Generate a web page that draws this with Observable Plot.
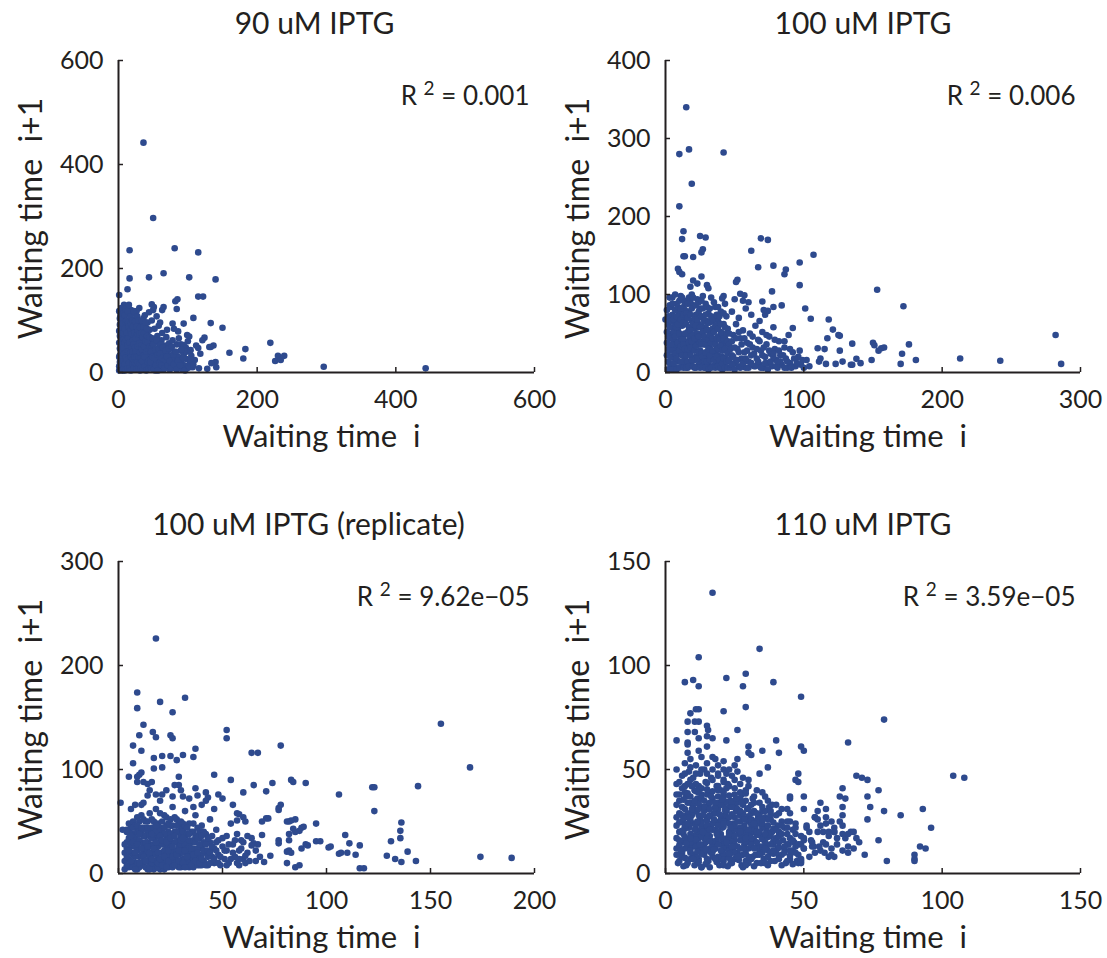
<!DOCTYPE html>
<html>
<head>
<meta charset="utf-8">
<script src="https://cdn.jsdelivr.net/npm/d3@7"></script>
<script src="https://cdn.jsdelivr.net/npm/@observablehq/plot@0.6"></script>
<style>
  html, body { margin: 0; padding: 0; background: #ffffff; }
  #root { position: relative; width: 1107px; height: 958px; background: #ffffff; overflow: hidden; }
  #root svg { position: absolute; }
</style>
</head>
<body>
<div id="root"></div>
<script>
// ---------- chart text ----------
const titles = ["90 uM IPTG", "100 uM IPTG", "100 uM IPTG (replicate)", "110 uM IPTG"];
const r2Values = ["0.001", "0.006", "9.62e\u221205", "3.59e\u221205"];
const xLabel = "Waiting time\u00a0\u00a0i";
const yLabel = "Waiting time\u00a0\u00a0i+1";

// ---------- axes ----------
const xDomains = [[0, 600], [0, 300], [0, 200], [0, 150]];
const yDomains = [[0, 600], [0, 400], [0, 300], [0, 150]];
const xTicks = [[0, 200, 400, 600], [0, 100, 200, 300], [0, 50, 100, 150, 200], [0, 50, 100, 150]];
const yTicks = [[0, 200, 400, 600], [0, 100, 200, 300, 400], [0, 100, 200, 300], [0, 50, 100, 150]];

// ---------- data: [waiting time i, waiting time i+1] ----------
const pts90 = [
  [1,12],[2,33],[1,57],[3,81],[2,104],[4,6],[4,27],[5,46],[3,69],[5,93],[6,118],[6,15],[7,38],[7,62],[8,85],[8,108],[9,4],[9,24],[10,50],[10,73],[11,97],[11,126],[12,14],[13,36],[13,60],[14,82],[14,112],[15,5],[16,27],[16,47],[17,70],[17,91],[18,120],[19,10],[19,33],[20,56],[20,79],[21,102],[22,19],[22,42],[23,65],[23,88],[24,113],[25,6],[25,28],[26,51],[26,74],[27,96],[28,14],[28,38],[29,60],[29,84],[30,124],[31,4],[31,23],[32,46],[32,70],[33,93],[34,12],[34,32],[35,56],[35,78],[36,104],[37,7],[37,20],[38,42],[38,64],[39,87],[40,15],[40,30],[41,52],[42,72],[42,96],[43,9],[44,36],[44,60],[45,82],
  [3,44],[6,72],[9,95],[12,48],[15,71],[18,58],[21,37],[24,86],[27,62],[30,44],[33,27],[36,67],[39,50],[41,24],[16,100],[20,114],[8,130],[26,118],[11,84],[5,22],[14,25],[23,8],[28,92],[34,84],[38,110],[17,16],[31,96],[19,66],[10,39],[32,62],
  [1,4],[1,30],[1,80],[1,118],[2,20],[2,46],[2,70],[2,92],[3,10],[3,56],[3,110],[4,16],[4,38],[4,62],[4,86],[4,124],[5,30],[5,76],[5,102],[6,4],[6,54],[6,94],[7,22],[7,48],[7,76],[7,114],[8,8],[8,36],[8,64],[9,16],[9,58],[9,84],[9,110],[10,28],[10,98],[10,122],[11,6],[11,40],[11,62],[12,24],[12,76],[12,100],[13,8],[13,52],[13,118],[14,40],[14,66],[14,96],[15,18],[15,88],[15,130],[16,8],[16,58],[17,38],[17,80],[17,108],[18,4],[18,30],[18,94],[19,48],[19,74],[20,16],[20,40],[20,100],[21,26],[21,62],[21,88],[22,8],[22,54],[22,118],[23,30],[23,76],[24,18],[24,48],[24,98],[25,40],[25,66],[26,6],[26,30],[26,88],[27,20],[27,74],[27,108],[28,50],[28,80],[29,8],[29,30],[29,100],[30,16],[30,56],[30,74],[31,38],[31,86],[32,8],[32,28],[33,52],[33,76],[34,22],[34,44],[34,100],[35,6],[35,68],[36,32],[36,88],[37,50],[37,76],[38,12],[38,30],[39,60],[39,96],[40,4],[40,40],[41,70],[41,84],[42,20],[42,58],[43,46],[44,8],[44,24],[45,50],[45,68],
  [46,8],[47,26],[48,48],[49,66],[50,14],[51,38],[52,58],[53,4],[54,22],[55,44],[56,70],[57,12],[58,32],[59,52],[60,8],[61,26],[62,62],[63,40],[64,16],[65,6],[66,34],[67,52],[68,20],[69,68],[70,10],[71,40],[72,28],[73,56],[74,6],[75,18],[76,46],[77,32],[78,62],[79,12],[80,24],[81,40],[82,8],[84,54],[85,18],[86,30],[87,66],[88,10],[90,42],[91,22],[92,6],[94,34],[95,14],[97,48],[98,26],[99,8],[100,60],[103,18],[105,32],[107,10],[110,24],
  [46,20],[47,40],[48,8],[49,30],[50,54],[51,6],[52,28],[53,44],[54,14],[55,62],[56,34],[57,4],[58,46],[59,18],[60,36],[61,54],[62,14],[63,28],[64,48],[66,8],[67,24],[68,42],[70,30],[71,14],[73,46],[74,22],[76,8],[77,50],[79,34],[80,16],[83,40],[84,6],[86,22],[89,14],[90,54],[93,28],[96,4],[98,40],[101,12],[104,24],
  [52,84],[58,90],[63,76],[70,82],[48,100],[55,108],[60,96],[44,116],[50,120],
  [36,442],[50,297],[16,235],[81,239],[115,231],[16,181],[44,183],[65,191],[102,183],[140,179],[13,160],[1,149],[115,146],[122,146],[82,137],[85,141],[84,122],[63,120],[65,126],[48,131],[51,126],[108,105],[94,94],[133,95],[150,86],[160,38],[183,45],[180,27],[219,57],[226,22],[230,32],[234,24],[239,32],[296,11],[443,8],[137,52],[133,49],[124,67],[121,62],[115,47],[112,52],[140,20],[141,10],[134,18],[128,7],[116,8],[103,10],[102,69],[99,72],[94,53],[91,44],[86,79],[78,94],[80,84],[108,15],[118,36],[104,43],[131,49]
];

const pts100 = [
  [1,38],[2,14],[2,62],[3,86],[3,28],[4,50],[4,8],[5,74],[5,96],[6,20],[6,42],[7,64],[7,6],[8,32],[8,88],[9,54],[9,14],[10,76],[10,40],[11,24],[11,98],[12,60],[12,8],[13,46],[13,84],[14,18],[14,68],[15,34],[15,92],[16,6],[16,52],[17,78],[17,26],[18,12],[18,44],[19,66],[19,100],[20,30],[20,86],[21,6],[21,56],[22,20],[22,74],[23,40],[23,94],[24,10],[24,62],[25,28],[25,82],[26,48],[26,16],[27,70],[27,98],[28,36],[28,6],[29,58],[29,88],[30,22],[30,44],[31,76],[31,12],[32,64],[32,32],[33,96],[33,50],[34,8],[34,18],[35,70],[35,40],[36,84],[36,26],[37,56],[37,12],[38,46],[38,66],[39,6],[39,30],[40,78],[40,52],[41,20],[41,38],[42,62],[42,10],[43,44],[43,88],[44,28],[44,72],[45,14],[45,56],
  [3,44],[5,58],[7,36],[9,70],[11,46],[13,28],[15,12],[17,48],[19,8],[21,36],[23,58],[25,12],[27,40],[29,16],[31,54],[33,24],[35,8],[37,34],[39,62],[41,4],[43,18],[6,30],[10,60],[14,80],[18,90],[22,48],[26,60],[30,66],[34,56],[38,22],[42,36],[16,40],[20,18],[24,36],[28,24],
  [1,22],[1,52],[1,80],[2,4],[2,30],[2,46],[2,72],[3,12],[3,58],[3,96],[4,20],[4,36],[4,66],[4,84],[5,4],[5,28],[5,44],[5,88],[6,12],[6,52],[6,68],[7,24],[7,46],[7,80],[7,100],[8,4],[8,18],[8,58],[8,72],[9,38],[9,62],[9,84],[10,6],[10,28],[10,50],[10,92],[11,14],[11,34],[11,68],[11,82],[12,22],[12,42],[12,96],[13,6],[13,36],[13,64],[13,74],[14,30],[14,50],[14,90],[15,6],[15,22],[15,62],[15,76],[16,14],[16,30],[16,70],[16,88],[17,8],[17,38],[17,58],[17,96],[18,22],[18,32],[18,54],[18,74],[19,16],[19,40],[19,82],[20,8],[20,48],[20,62],[20,96],[21,16],[21,28],[21,44],[21,70],[22,6],[22,34],[22,60],[22,86],[23,18],[23,50],[23,68],[24,26],[24,46],[24,78],[24,90],[25,6],[25,38],[25,58],[26,24],[26,36],[26,72],[26,92],[27,8],[27,20],[27,52],[27,82],[28,14],[28,46],[28,66],[29,6],[29,26],[29,36],[29,74],[30,14],[30,54],[30,84],[31,4],[31,30],[31,42],[31,64],[32,16],[32,22],[32,48],[32,82],[33,6],[33,38],[33,72],[34,28],[34,44],[34,66],[35,16],[35,52],[35,90],[36,6],[36,36],[36,60],[37,20],[37,44],[37,74],[38,8],[38,30],[38,56],[38,84],[39,16],[39,42],[39,72],[40,6],[40,34],[40,62],[41,12],[41,28],[41,50],[42,18],[42,44],[42,76],[43,6],[43,30],[43,58],[44,14],[44,38],[44,50],[45,6],[45,24],[45,40],
  [46,36],[47,6],[48,22],[49,48],[50,12],[51,62],[52,30],[53,8],[54,44],[55,18],[56,54],[57,26],[58,6],[59,38],[60,14],[61,50],[62,22],[63,32],[64,8],[65,60],[66,18],[67,42],[68,10],[69,28],[70,52],[71,6],[72,20],[73,36],[74,12],[75,46],[76,24],[77,8],[78,58],[79,30],[80,16],[81,6],[82,40],[83,22],[84,10],[86,32],[87,18],[88,6],[89,48],[90,12],[92,26],[94,8],[96,20],[98,10],[100,6],[102,16],[104,8],
  [46,16],[46,50],[47,30],[48,10],[48,40],[49,20],[50,4],[50,32],[51,44],[52,16],[53,26],[53,52],[54,6],[55,36],[56,12],[57,44],[58,18],[59,28],[60,6],[61,36],[62,12],[63,46],[64,24],[65,8],[66,30],[67,14],[68,40],[69,6],[70,22],[71,32],[72,12],[73,48],[74,4],[75,28],[76,14],[78,20],[79,42],[80,8],[82,28],[83,14],[85,22],[86,6],[88,14],[90,30],[91,6],[93,18],[95,12],[97,28],[99,16],
  [48,78],[53,70],[58,82],[62,74],[68,66],[72,74],[56,92],[50,94],[60,90],
  [15,340],[17,286],[10,280],[42,282],[19,242],[10,213],[13,181],[12,171],[25,175],[29,173],[69,172],[74,170],[13,149],[14,149],[20,148],[27,158],[26,154],[62,156],[107,151],[97,141],[78,137],[67,135],[87,132],[86,126],[9,133],[10,129],[12,126],[20,118],[26,123],[23,114],[30,112],[31,108],[18,110],[153,106],[172,85],[97,112],[52,119],[51,116],[77,104],[54,101],[57,99],[42,98],[41,95],[101,82],[70,91],[84,86],[78,84],[74,79],[71,80],[105,69],[118,68],[92,57],[121,55],[125,48],[126,47],[117,44],[135,37],[150,38],[151,35],[158,32],[156,31],[154,28],[176,36],[171,24],[126,28],[110,31],[115,30],[282,48],[213,18],[242,15],[286,11],[181,16],[170,11],[149,16],[138,17.5],[141,12],[134,10],[135,10],[128,14],[123,11],[116,11],[111,14],[112,18],[86,40],[78,24],[81,14],[0,68]
];

const pts100rep = [
  [3,12],[4,30],[5,6],[5,48],[6,20],[6,62],[7,38],[8,10],[8,26],[9,54],[9,4],[10,16],[10,42],[11,30],[11,66],[12,8],[12,22],[13,50],[13,36],[14,12],[14,4],[15,28],[15,58],[16,18],[16,44],[17,8],[17,34],[18,24],[18,62],[19,14],[19,48],[20,4],[20,30],[21,40],[21,20],[22,10],[22,56],[23,26],[23,36],[24,6],[24,16],[25,46],[25,30],[26,12],[26,64],[27,22],[27,40],[28,8],[28,52],[29,18],[29,32],[30,6],[30,44],[31,26],[31,14],[32,60],[32,36],[33,8],[33,20],[34,48],[35,30],[35,12],[36,40],[36,6],[37,22],[37,56],[38,16],[39,34],[39,8],[40,26],[40,46],[41,12],[42,20],[42,38],[43,8],[44,30],[44,52],[45,16],[46,24],[46,10],[47,42],[48,18],[48,32],[49,8],[50,26],[51,14],[52,36],[52,22],[53,10],[54,48],[55,28],[56,16],[57,38],[58,8],[58,22],[59,32],[60,14],
  [7,18],[9,32],[11,8],[13,24],[15,42],[17,20],[19,36],[21,6],[23,46],[25,18],[27,12],[29,40],[31,48],[33,30],[35,20],[37,10],[39,24],[41,30],[43,16],[45,36],[4,40],[6,8],[10,24],[14,38],[18,6],[22,30],[26,38],[30,20],[34,14],[38,44],[12,44],[16,52],[20,58],[24,40],[28,30],
  [3,20],[3,4],[4,8],[4,24],[5,14],[5,34],[6,28],[6,44],[7,6],[7,26],[7,50],[8,16],[8,34],[8,46],[9,10],[9,22],[9,40],[10,6],[10,32],[10,50],[11,18],[11,38],[11,56],[12,12],[12,28],[12,36],[13,6],[13,18],[13,42],[14,22],[14,30],[14,50],[15,8],[15,16],[15,36],[16,10],[16,26],[16,34],[17,4],[17,28],[17,44],[18,12],[18,18],[18,40],[19,6],[19,26],[19,30],[20,10],[20,20],[20,44],[21,14],[21,28],[21,50],[22,4],[22,22],[22,38],[23,12],[23,18],[23,54],[24,26],[24,32],[24,48],[25,8],[25,24],[25,38],[26,6],[26,20],[26,46],[27,16],[27,30],[27,54],[28,12],[28,22],[28,40],[29,6],[29,26],[29,48],[30,12],[30,28],[30,36],[31,8],[31,20],[31,40],[32,14],[32,28],[32,46],[33,12],[33,24],[33,38],[34,6],[34,22],[34,32],[35,16],[35,40],[36,10],[36,24],[36,32],[37,16],[37,30],[38,8],[38,24],[39,14],[39,40],[40,8],[40,18],[41,22],[41,40],[42,8],[42,28],[43,22],[43,34],[44,10],[44,20],[45,26],[46,14],[47,22],[47,30],[48,10],[49,16],[50,34],[51,22],[52,8],[53,28],[54,14],[55,20],[56,32],[57,10],[58,14],[59,24],[60,30],[61,10],[62,20],[63,12],[64,34],[66,12],[67,28],
  [3,28],[4,16],[5,22],[5,40],[6,12],[6,36],[7,30],[7,44],[8,4],[8,20],[9,28],[9,46],[10,10],[10,38],[11,24],[11,44],[12,16],[12,52],[13,30],[13,12],[14,44],[14,26],[15,20],[15,4],[16,38],[16,14],[17,24],[17,50],[18,30],[18,46],[19,20],[19,10],[20,36],[20,14],[21,32],[21,8],[22,16],[22,44],[23,6],[23,30],[24,22],[24,12],[25,34],[25,52],[26,26],[26,16],[27,8],[27,36],[28,18],[28,46],[29,12],[29,22],[30,32],[30,50],[31,10],[31,34],[32,6],[32,22],[33,16],[33,44],[34,26],[34,38],[35,8],[35,24],[36,18],[36,48],[37,12],[37,36],[38,20],[38,34],[39,10],[39,28],[40,14],[40,36],
  [18,226],[9,174],[32,169],[20,165],[9,159],[26,155],[12,143],[155,144],[52,138],[52,130],[16.5,136],[18,131],[25,133],[26,130],[10,133],[7,123],[78,123],[11,118],[37,120],[36,112],[64,116],[67,116],[31,114],[28,109],[21,113],[17,111],[25,113],[7,106],[169,102],[21,102],[17,101],[11,97],[10,95],[5,93],[9,93],[46,95],[29,93],[54,90],[83,90],[84,88],[90,87],[74,87],[65,85],[144,84],[122,83],[123,83],[106,76],[71,79],[60,78],[123,60],[109,37],[111,29],[116,27],[136,49],[135.5,41],[135.5,34],[131,31],[139,21],[129,17],[133,14],[136,11],[143,12],[174,16],[189,15],[116,5],[118,5],[95,48],[95,31],[97,31],[101,25],[102,26],[106,19],[107,20],[110,20],[114,18],[89,45],[88,44],[87,41],[84,43],[85,40],[82,38],[82,32],[85,52],[83,51],[82,50],[81,50],[77,63],[78,66],[77,61],[71,53],[72,53],[69,50],[60,54],[58,57],[57,51],[61,50],[77,32],[77,29],[73,17],[70,11],[68,16],[66,22],[61,17],[65,29],[64,27],[69,37],[62,36],[81,21],[82,22],[83,20],[81,10],[85,6],[87,8],[91,27],[90,28],[88,24],
  [29,85],[30,80],[31,74],[34,72],[37,82],[38,75],[42,78],[43,73],[42,70],[40,66],[36,64],[48,76],[50,72],[55,66],[57,58],[46,62],[14,86],[15,80],[18,76],[20,70],[21,76],[12,68],[8,66],[23,80],[26,74],[27,85],[4,42],[1,68],[2,42],[14,75],[12,88],[16,88],[9,88]
];

const pts110 = [
  [5,6],[7.5,4],[9,7],[11.5,5],[13,3],[15.5,6],[17,8],[19.5,4],[21,6],[23.5,5],[25,7],[27.5,4],[29,6],[31.5,8],[33,5],[35.5,7],[37,4],[39.5,6],[41,8],[43.5,5],[45,7],[47.5,6],
  [4,12],[6,10],[8.5,13],[10,9],[12.5,11],[14,14],[16.5,10],[18,12],[20.5,9],[22,13],[24.5,11],[26,10],[28.5,14],[30,12],[32.5,9],[34,11],[36.5,13],[38,10],[40.5,12],[42,9],[44.5,14],[46,11],[48,9],[50,12],
  [4,17],[6.5,19],[8,16],[10.5,18],[12,20],[14.5,15],[16,18],[18.5,16],[20,19],[22.5,17],[24,15],[26.5,20],[28,17],[30.5,19],[32,16],[34.5,18],[36,15],[38.5,20],[40,17],[42.5,16],[44,19],[46.5,15],[49,18],
  [4,23],[6,25],[8.5,22],[10,24],[12.5,26],[14,21],[16.5,23],[18,25],[20.5,22],[22,26],[24.5,24],[26,21],[28.5,23],[30,25],[32.5,22],[34,24],[36.5,21],[38,26],[40.5,23],[43,22],[45,25],
  [5,29],[7,31],[9.5,28],[11,30],[13.5,32],[15,27],[17.5,29],[19,31],[21.5,28],[23,32],[25.5,30],[27,28],[29.5,31],[31,29],[33.5,27],[35,30],[37.5,32],[40,28],[42,31],
  [5,35],[7.5,37],[9,34],[11.5,36],[13,38],[15.5,33],[17,36],[19.5,34],[21,37],[23.5,35],[25,33],[27.5,38],[29,35],[31.5,36],[34,34],[36,37],[38.5,33],
  [6,41],[8,43],[10.5,40],[12,42],[14.5,44],[16,39],[18.5,42],[20,40],[22.5,43],[25,41],[27,39],[30,42],[33,40],
  [6,47],[8.5,49],[10,46],[12.5,48],[14,50],[16.5,46],[19,48],[21,45],[24,47],[28,46],
  [6,8],[8,5],[10,13],[12,7],[14,17],[16,12],[18,21],[20,14],[22,8],[24,19],[26,13],[28,9],[7,22],[9,27],[11,15],[13,25],[15,31],[17,14],[19,24],[21,33],[23,20],[25,27],[27,16],[29,21],[6,15],[8,29],[10,33],[12,17],[14,9],[16,28],[18,32],[20,26],[22,30],[24,10],[26,34],[28,27],[30,15],[32,20],[34,13],[36,27],[38,18],[40,10],[42,25],[44,14],[46,21],[48,5],
  [4.5,5],[6.5,3.5],[10.5,4],[12,5.5],[14.5,4.5],[16,3],[18.5,5.5],[20,7],[22.5,3.5],[24,5],[26.5,6.5],[28,3],[30,5],[32,3.5],[34.5,5],[38,6],[42,4],[46,4.5],
  [5,9],[7,7.5],[9,10],[11,8],[13,9.5],[15,7],[17,10.5],[19,8],[21,9.5],[23,7.5],[25,10],[27,8.5],[29,9.5],[31,7],[33,9],[35,10],[37,8],[39,9.5],[41,7],[43,10],[45,8.5],[47,10],
  [5,13.5],[7,12],[9,11],[11,13],[13,12.5],[15,11],[17,13],[19,14],[21,12],[23,11],[25,13.5],[27,12],[29,11.5],[31,14],[33,12.5],[35,13],[37,11],[39,14],[41,12.5],[43,11.5],[47,13],[49,14],
  [5,16],[7,17.5],[9,15],[11,16.5],[13,18],[15,17],[17,15.5],[19,18],[21,16],[23,17.5],[25,16],[27,18.5],[29,15.5],[31,17],[33,18.5],[35,16.5],[37,17.5],[39,15.5],[41,18],[45,17],
  [5,20],[7,21.5],[9,19],[11,21],[13,22],[15,19.5],[17,21],[19,20],[21,22.5],[23,19],[25,21],[27,22],[29,19.5],[31,21.5],[33,20],[35,22],[37,19],[39,21.5],[41,20],[44,22],[47,19],
  [5,24.5],[7,23],[9,25.5],[11,23.5],[13,24],[15,25.5],[17,24],[19,23],[21,25],[23,24],[25,23],[27,25],[29,26],[31,23.5],[33,25.5],[35,24],[37,26],[39,24.5],[42,23],
  [6,28],[8,27],[10,29.5],[12,28],[14,30],[16,27.5],[18,29],[20,28],[22,30],[24,28.5],[26,30],[28,29],[30,27.5],[32,30],[34,28],[36,30],[38,28.5],[41,29],
  [6,32],[8,34],[10,31],[12,33.5],[14,32],[16,34],[18,31.5],[20,33],[22,34.5],[24,32],[26,31],[28,33],[30,31.5],[32,34],[35,32],[37,35],[40,33],
  [5,38],[7,39],[9,37],[11,39.5],[13,36],[15,38],[17,39.5],[19,37],[21,39],[23,37.5],[25,38],[27,36],[29,38.5],[32,37],[35,39],
  [5,44],[7,42],[9,45],[11,43],[13,41],[15,43.5],[17,45],[19,42],[21,44],[23,42],[25,45],[27,43],[30,45],
  [7,48],[9,51],[11,48],[13,50],[15,48],[17,50],[19,47],[21,50],[26,49],[22,48],
  [4,9],[4,27],[4,33],[4,38],[5.5,11],[6,20.5],[6.5,26.5],[6.5,35.5],[7.5,14.5],[8,24],[8,38.5],[9,17],[9.5,31],[9.5,42],[10,7],[10.5,21],[10.5,35],[11.5,25],[11.5,10.5],[12,31],[12,39],[12.5,14],[13.5,20],[13.5,28],[14,35],[14.5,11.5],[15,23],[15,40.5],[16,15.5],[16,21],[16,31],[16.5,37],[17.5,11.5],[17.5,26],[18,7],[18,34],[18.5,19],[19,40],[19.5,28.5],[20,11],[20.5,17],[20.5,35.5],[21,24],[21.5,30.5],[22,15],[22,41],[23,9.5],[23,27],[23.5,22],[24,13],[24,34.5],[25,18],[25.5,36],[26,25],[26,8],[27,30],[27,20],[27.5,34],[28,12],[28.5,26],[29,17],[29,40],[30,8],[30,21],[31,26],[31,33],[32,12],[32,24],[33,15],[33,29],[34,9],[34,20],[35,26],[36,12],[36,19],[37,23],[38,14],[38,30],[39,11],[40,21],[41,15],[42,19],[43,13],[44,25],[45,11],[46,16],[47,22],[48,14],
  [50,16],[51,22],[52,8],[53,13],[54,27],[55,20],[56,11],[57,15],[58,24],[59,18],[60,9],[61,20],[62,14],[63,25],[65,17],[66,10],[67,20],[68,12],[70,15],[72,9],
  [52,20],[54,10],[56,23],[58,14],[60,25],[62,17],[64,23],[66,19],[60,12],[55,30],
  [9,55],[7,53],[11,52],[13,56],[19,52],[23,50],[25,52],[15,53],
  [17,135],[34,108],[12,104],[29,96],[7,92],[10,93],[22,94],[39,92],[12,90],[28,90],[49,85],[29,80],[11,79],[12,79],[21,78],[9,77],[79,74],[8,73],[10.6,73],[12,73],[15,71],[15.4,69],[26,69],[8,68],[10.6,68],[15,66],[17,65],[22,64],[40,64],[66,63],[4,64],[8,63],[8,62],[12,65],[30,61],[49,61],[50,59],[35,59],[41,58],[30,58],[31,57],[8,58],[12,59],[15,61],[26,55],[17,56],[18,55],[21,54],[37,51],[4,50],[34,48],[48,48],[47,45],[48,44],[69,47],[71,46],[73,45],[104,47],[108,46],[4,43],[64,41],[77,40],[45,37],[45,36],[50,37],[63,37],[65,36],[73,37],[56,34],[58,31],[64,32],[64,28],[74,32],[79,30],[85,28],[93,31],[73,26],[50,31],[44,31],[45,29],[47,24],[51,23],[54,27],[55,26],[58,27],[57,20],[59,20],[61,22],[61,20],[68,20],[64,19],[69,17],[77,16],[96,22],[92,13],[94,12],[90,9],[90,7],[90,6],[80,6],[66,13],[64,11],[61,8],[59,8],[57.5,10],[55.6,13],[53,15],[53.6,13],[52.6,16],[50,12],[50,17],[49,6],[49,5],[49,7],[44,6],[36,5],[29,4],[21,4],[13,3]
];

const series = [pts90, pts100, pts100rep, pts110];

// ---------- layout (pixels) ----------
const layout = [
  {left: 0,   top: 0,   width: 553, height: 479, ml: 118, mr: 19, mt: 60, mb: 107, titleDx: -12},
  {left: 553, top: 0,   width: 554, height: 479, ml: 112, mr: 27, mt: 60, mb: 107, titleDx: -10},
  {left: 0,   top: 479, width: 553, height: 479, ml: 118, mr: 19, mt: 82, mb: 85,  titleDx: -18},
  {left: 553, top: 479, width: 554, height: 479, ml: 112, mr: 27, mt: 82, mb: 85,  titleDx: -10}
];

const ink = "#231f20";
const dotColor = "#2e4a8e";
const fontFamily = "Lato, 'Open Sans', 'Liberation Sans', sans-serif";

const root = document.getElementById("root");

series.forEach((pts, k) => {
  const L = layout[k];
  const svg = Plot.plot({
    width: L.width,
    height: L.height,
    marginLeft: L.ml, marginRight: L.mr, marginTop: L.mt, marginBottom: L.mb,
    style: {fontFamily, fontSize: "25px", color: ink, background: "transparent", overflow: "visible"},
    x: {domain: xDomains[k]},
    y: {domain: yDomains[k]},
    marks: [
      Plot.dot(pts, {x: d => d[0], y: d => d[1], r: 3.3, fill: dotColor, stroke: "none"}),
      Plot.ruleY([yDomains[k][0]], {stroke: ink, strokeWidth: 2}),
      Plot.ruleX([xDomains[k][0]], {stroke: ink, strokeWidth: 2}),
      Plot.axisX(xTicks[k], {tickSize: -5, tickPadding: 23, fontSize: 25, label: null, stroke: ink, strokeWidth: 1.5, fill: ink}),
      Plot.axisY(yTicks[k], {tickSize: -5, tickPadding: 20, fontSize: 25, label: null, stroke: ink, strokeWidth: 1.5, fill: ink}),
      Plot.text([titles[k]], {text: d => d, frameAnchor: "top", dy: -27, dx: L.titleDx, lineAnchor: "bottom", fontSize: 30, fill: ink}),
      Plot.text([xLabel], {text: d => d, frameAnchor: "bottom", dy: 74, dx: -5, lineAnchor: "bottom", textAnchor: "middle", fontSize: 31, fill: ink}),
      Plot.text([yLabel], {text: d => d, frameAnchor: "left", dx: -87, dy: 2, rotate: -90, lineAnchor: "middle", textAnchor: "middle", fontSize: 32, fill: ink}),
      Plot.text(["R2=" + r2Values[k]], {text: d => d, frameAnchor: "top-right", dx: -5, dy: 44, lineAnchor: "bottom", textAnchor: "end", fontSize: 26, fill: ink})
    ]
  });
  // build R² with a raised superscript
  const ns = "http://www.w3.org/2000/svg";
  svg.querySelectorAll("text").forEach(t => {
    const s = t.textContent;
    if (s.startsWith("R2=")) {
      const val = s.slice(3);
      t.textContent = "";
      const a = document.createElementNS(ns, "tspan");
      a.textContent = "R\u00a0";
      const b = document.createElementNS(ns, "tspan");
      b.textContent = "2";
      b.setAttribute("font-size", "19");
      b.setAttribute("dy", "-10");
      const c = document.createElementNS(ns, "tspan");
      c.textContent = "\u00a0= " + val;
      c.setAttribute("font-size", "26");
      c.setAttribute("dy", "10");
      t.appendChild(a); t.appendChild(b); t.appendChild(c);
    }
  });
  svg.style.left = L.left + "px";
  svg.style.top = L.top + "px";
  root.appendChild(svg);
});
</script>
</body>
</html>
